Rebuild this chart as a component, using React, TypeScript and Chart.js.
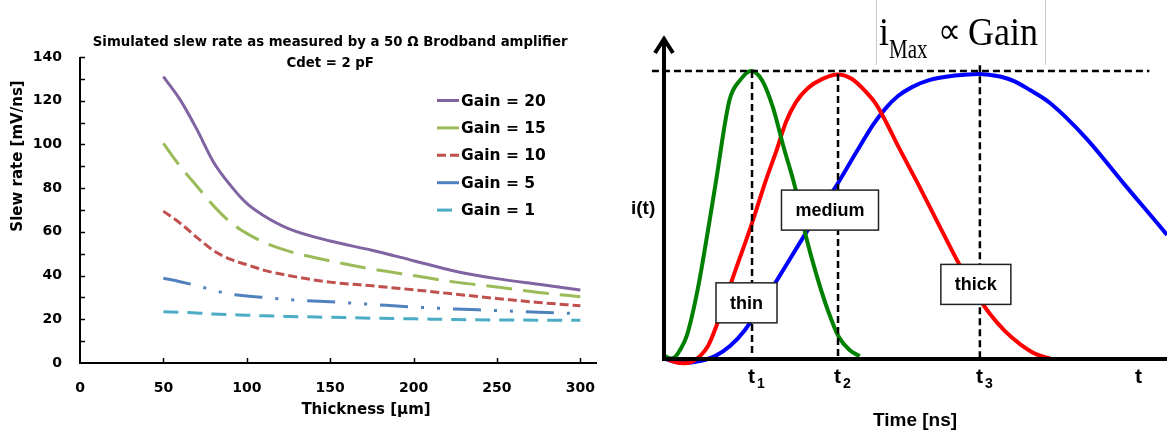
import React, { useEffect, useRef } from "react";
import { Chart, registerables } from "chart.js";
Chart.register(...registerables);

// ---------- Left chart data ----------
const thickness = [50, 60, 70, 80, 90, 100, 110, 125, 150, 175, 200, 225, 250, 275, 300];
const gain20 = [131, 120.5, 107, 92, 81.5, 73, 67.5, 61.5, 55.8, 51.6, 46.8, 42, 38.6, 36, 33.4];
const gain15 = [100.5, 90, 81, 72, 64.5, 59.3, 55.3, 51.2, 46.7, 43, 40, 37, 34.8, 32.3, 30.3];
const gain10 = [69.5, 64, 57.5, 51.5, 47.5, 45, 42.5, 40, 37, 35.3, 33.5, 31.5, 29.5, 27.7, 26.2];
const gain5 = [38.8, 37.2, 35.4, 33.3, 31.5, 30.7, 30, 29, 28, 26.8, 25.6, 24.7, 24, 23.2, 22.6];
const gain1 = [23.5, 23.2, 22.9, 22.4, 22.1, 21.9, 21.6, 21.3, 20.9, 20.5, 20.2, 19.9, 19.7, 19.6, 19.6];
const seriesLabels = ["Gain = 20", "Gain = 15", "Gain = 10", "Gain = 5", "Gain = 1"];
const seriesValues = [gain20, gain15, gain10, gain5, gain1];
const yTickValues = [0, 20, 40, 60, 80, 100, 120, 140];
const xTickValues = [0, 50, 100, 150, 200, 250, 300];
const leftTitle = ["Simulated slew rate as measured by a 50 \u03A9 Brodband amplifier", "Cdet = 2 pF"];
const leftXTitle = "Thickness [\u00B5m]";
const leftYTitle = "Slew rate [mV/ns]";

// ---------- Right chart data (schematic pulses) ----------
const thinT = [0.2, 1.19, 2.19, 3.18, 4.57, 6.68, 8.85, 10.28, 13.02, 15.17, 17.3, 19.46, 21.61, 23.76, 26.04, 28.23, 30.42, 32.56, 34.73, 36.88, 38.91];
const thinI = [0.01, 0.002, 0.007, 0.031, 0.083, 0.24, 0.458, 0.611, 0.899, 0.969, 1.0, 0.969, 0.876, 0.737, 0.598, 0.425, 0.286, 0.17, 0.077, 0.031, 0.01];
const mediumT = [0, 1.59, 3.78, 5.57, 7.16, 8.75, 10.34, 13.52, 17.5, 20.28, 22.27, 24.25, 26.24, 28.63, 31.41, 34.59, 37.38, 40.16, 42.15, 44.14, 46.52, 50.5, 54.47, 58.45, 61.83, 64.81, 67.79, 70.78, 73.96, 76.94];
const mediumI = [0.007, -0.007, -0.015, -0.009, 0.01, 0.045, 0.111, 0.274, 0.472, 0.622, 0.719, 0.823, 0.892, 0.941, 0.972, 0.988, 0.972, 0.927, 0.885, 0.823, 0.74, 0.608, 0.472, 0.337, 0.233, 0.156, 0.097, 0.052, 0.017, 0.0];
const thickT = [0, 1.59, 3.78, 7.16, 10.14, 13.12, 16.1, 19.09, 22.47, 28.23, 34.0, 38.37, 41.55, 44.14, 46.52, 49.3, 52.88, 57.85, 62.62, 66.8, 69.58, 72.76, 76.74, 83.9, 91.45, 100, 102.58];
const thickI = [0.002, -0.007, -0.014, -0.007, 0.01, 0.045, 0.101, 0.181, 0.274, 0.438, 0.594, 0.722, 0.813, 0.872, 0.913, 0.944, 0.969, 0.984, 0.99, 0.981, 0.965, 0.934, 0.889, 0.767, 0.608, 0.431, 0.375];
const peakTimes = [17.5, 34.6, 62.8];
const peakTops = [1.0, 0.99, 1.02];
const peakSubs = ["1", "2", "3"];
const boxLabels = ["thin", "medium", "thick"];
const boxT = [16.4, 33.0, 62.0];
const boxI = [0.195, 0.517, 0.259];

const LEFT_FONT = '"DejaVu Sans"';
const RIGHT_FONT = '"Liberation Sans"';

const leftDecor = {
  id: "leftDecor",
  afterDraw(chart: any) {
    const { ctx, chartArea: ca, scales } = chart;
    const x = scales.x, y = scales.y;
    ctx.save();
    ctx.strokeStyle = "#000";
    ctx.fillStyle = "#000";
    // axes
    ctx.lineWidth = 2;
    ctx.beginPath();
    ctx.moveTo(ca.left, ca.top);
    ctx.lineTo(ca.left, ca.bottom);
    ctx.lineTo(ca.right, ca.bottom);
    ctx.stroke();
    // inner ticks
    ctx.lineWidth = 1.5;
    ctx.beginPath();
    for (let v = 10; v <= 140; v += 10) {
      const py = Math.round(y.getPixelForValue(v)) + 0.5;
      ctx.moveTo(ca.left, py);
      ctx.lineTo(ca.left + 5, py);
    }
    xTickValues.forEach((v) => {
      if (v === 0) return;
      const px = Math.round(x.getPixelForValue(v)) + 0.5;
      ctx.moveTo(px, ca.bottom);
      ctx.lineTo(px, ca.bottom - 5);
    });
    ctx.stroke();
    // tick labels
    ctx.font = `bold 14px ${LEFT_FONT}`;
    ctx.textAlign = "right";
    ctx.textBaseline = "middle";
    yTickValues.forEach((v) => ctx.fillText(String(v), ca.left - 18, y.getPixelForValue(v)));
    ctx.textAlign = "center";
    xTickValues.forEach((v) => ctx.fillText(String(v), x.getPixelForValue(v), ca.bottom + 25));
    // titles
    ctx.font = `bold 13.3px ${LEFT_FONT}`;
    const cx = x.getPixelForValue(150);
    ctx.fillText(leftTitle[0], cx, 43);
    ctx.fillText(leftTitle[1], cx, 64);
    ctx.font = `bold 15px ${LEFT_FONT}`;
    ctx.fillText(leftXTitle, ca.left + 286, ca.bottom + 47);
    ctx.save();
    ctx.translate(18, 156);
    ctx.rotate(-Math.PI / 2);
    ctx.fillText(leftYTitle, 0, 0);
    ctx.restore();
    // legend
    ctx.font = `bold 15.5px ${LEFT_FONT}`;
    ctx.textAlign = "left";
    chart.data.datasets.forEach((ds: any, i: number) => {
      const ly = ca.top + 43.5 + i * 27.4;
      const lx = ca.left + 357;
      ctx.save();
      ctx.strokeStyle = ds.borderColor;
      ctx.lineWidth = 3;
      ctx.setLineDash(ds.borderDash || []);
      ctx.beginPath();
      ctx.moveTo(lx, ly);
      ctx.lineTo(lx + 22, ly);
      ctx.stroke();
      ctx.restore();
      ctx.fillText(ds.label, lx + 24, ly + 1);
    });
    ctx.restore();
  },
};

const rightDecor = {
  id: "rightDecor",
  afterDatasetsDraw(chart: any) {
    const { ctx, chartArea: ca, scales } = chart;
    const x = scales.x, y = scales.y;
    const y0 = y.getPixelForValue(0);
    const y1 = y.getPixelForValue(1);
    ctx.save();
    ctx.strokeStyle = "#000";
    ctx.fillStyle = "#000";
    // dashed guides
    ctx.lineWidth = 2.5;
    ctx.setLineDash([7, 4]);
    ctx.beginPath();
    ctx.moveTo(x.getPixelForValue(-2.4), y1);
    ctx.lineTo(x.getPixelForValue(96.5), y1);
    peakTimes.forEach((t, i) => {
      const px = x.getPixelForValue(t);
      ctx.moveTo(px, y.getPixelForValue(peakTops[i]));
      ctx.lineTo(px, y0);
    });
    ctx.stroke();
    ctx.setLineDash([]);
    // axes
    ctx.lineWidth = 4;
    ctx.beginPath();
    ctx.moveTo(ca.left, y0);
    ctx.lineTo(ca.left, ca.top + 3);
    ctx.moveTo(ca.left - 2, y0);
    ctx.lineTo(ca.right, y0);
    ctx.stroke();
    ctx.beginPath();
    ctx.lineJoin = "miter";
    ctx.moveTo(ca.left - 9, ca.top + 18);
    ctx.lineTo(ca.left, ca.top + 4);
    ctx.lineTo(ca.left + 9, ca.top + 18);
    ctx.stroke();
    // t labels
    ctx.textAlign = "left";
    ctx.textBaseline = "alphabetic";
    peakTimes.forEach((t, i) => {
      const px = x.getPixelForValue(t) - 4;
      ctx.font = `bold 21px ${RIGHT_FONT}`;
      ctx.fillText("t", px, y0 + 24);
      ctx.font = `bold 14px ${RIGHT_FONT}`;
      ctx.fillText(peakSubs[i], px + 9, y0 + 29);
    });
    ctx.font = `bold 21px ${RIGHT_FONT}`;
    ctx.fillText("t", ca.right - 32, y0 + 24);
    ctx.font = `bold 19px ${RIGHT_FONT}`;
    ctx.fillText("i(t)", ca.left - 33, 214);
    ctx.textAlign = "center";
    ctx.fillText("Time [ns]", ca.left + 251, y0 + 67);
    // boxes
    ctx.font = `bold 18px ${RIGHT_FONT}`;
    ctx.textBaseline = "middle";
    boxLabels.forEach((lab, i) => {
      const cx = x.getPixelForValue(boxT[i]);
      const cy = y.getPixelForValue(boxI[i]);
      const w = ctx.measureText(lab).width + 28;
      const h = 40;
      ctx.fillStyle = "#fff";
      ctx.fillRect(cx - w / 2, cy - h / 2, w, h);
      ctx.strokeStyle = "#222";
      ctx.lineWidth = 1.5;
      ctx.strokeRect(cx - w / 2, cy - h / 2, w, h);
      ctx.fillStyle = "#000";
      ctx.fillText(lab, cx, cy + 1);
    });
    // formula title
    ctx.strokeStyle = "#c8c8c8";
    ctx.lineWidth = 1;
    ctx.beginPath();
    ctx.moveTo(ca.left + 212.5, 0);
    ctx.lineTo(ca.left + 212.5, 65);
    ctx.moveTo(ca.left + 381.5, 0);
    ctx.lineTo(ca.left + 381.5, 65);
    ctx.stroke();
    ctx.fillStyle = "#000";
    ctx.textAlign = "left";
    ctx.textBaseline = "alphabetic";
    ctx.save();
    ctx.translate(0, 45);
    ctx.scale(1, 1.12);
    ctx.font = '36px "Liberation Serif"';
    ctx.fillText("i", ca.left + 215, 0);
    ctx.font = '32px "Liberation Serif"';
    ctx.fillText("\u221D", ca.left + 274, -2);
    ctx.font = '36px "Liberation Serif"';
    ctx.fillText("Gain", ca.left + 304, 0);
    ctx.restore();
    ctx.save();
    ctx.translate(0, 58);
    ctx.scale(1, 1.25);
    ctx.font = '21px "Liberation Serif"';
    ctx.fillText("Max", ca.left + 225, 0);
    ctx.restore();
    ctx.restore();
  },
};

export default function App() {
  const leftRef = useRef<HTMLCanvasElement>(null);
  const rightRef = useRef<HTMLCanvasElement>(null);

  useEffect(() => {
    const colors = ["#8064A2", "#9BBB59", "#C0504D", "#4F81BD", "#4BACC6"];
    const dashes = [[], [26, 11], [9, 4], [28, 13, 3, 13, 3, 13], [15, 9]];
    const left = new Chart(leftRef.current!, {
      type: "line",
      data: {
        datasets: seriesValues.map((vals, i) => ({
          label: seriesLabels[i],
          data: thickness.map((t, j) => ({ x: t, y: vals[j] })),
          borderColor: colors[i],
          backgroundColor: colors[i],
          borderWidth: 3,
          borderDash: dashes[i],
          pointRadius: 0,
          fill: false,
          cubicInterpolationMode: "monotone",
        })),
      },
      options: {
        responsive: false,
        devicePixelRatio: 1,
        animation: false,
        layout: { padding: { left: 80, right: 3, top: 57, bottom: 74 } },
        plugins: { legend: { display: false }, title: { display: false }, tooltip: { enabled: false } },
        scales: {
          x: { type: "linear", min: 0, max: 310, display: false },
          y: { type: "linear", min: 0, max: 140, display: false },
        },
      },
      plugins: [leftDecor],
    } as any);

    const rColors = ["#008000", "#FF0000", "#0000FF"];
    const rT = [thinT, mediumT, thickT];
    const rI = [thinI, mediumI, thickI];
    const right = new Chart(rightRef.current!, {
      type: "line",
      data: {
        datasets: boxLabels.map((lab, i) => ({
          label: lab,
          data: rT[i].map((t, j) => ({ x: t, y: rI[i][j] })),
          borderColor: rColors[i],
          borderWidth: 4,
          pointRadius: 0,
          fill: false,
          cubicInterpolationMode: "monotone",
        })),
      },
      options: {
        responsive: false,
        devicePixelRatio: 1,
        animation: false,
        layout: { padding: { left: 64, right: 0, top: 35, bottom: 6 } },
        plugins: { legend: { display: false }, title: { display: false }, tooltip: { enabled: false } },
        scales: {
          x: { type: "linear", min: 0, max: 100, display: false },
          y: { type: "linear", min: -0.25, max: 1.125, display: false },
        },
      },
      plugins: [rightDecor],
    } as any);

    return () => {
      left.destroy();
      right.destroy();
    };
  }, []);

  return (
    <div style={{ position: "fixed", left: 0, top: 0, width: 1167, height: 437, background: "#fff" }}>
      <canvas ref={leftRef} width={600} height={437} style={{ position: "absolute", left: 0, top: 0, width: 600, height: 437 }} />
      <canvas ref={rightRef} width={567} height={437} style={{ position: "absolute", left: 600, top: 0, width: 567, height: 437 }} />
    </div>
  );
}
